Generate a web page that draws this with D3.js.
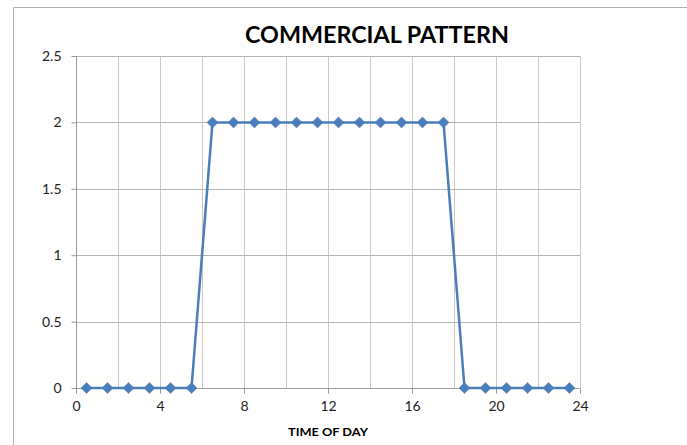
<!DOCTYPE html>
<html>
<head>
<meta charset="utf-8">
<script src="https://cdn.jsdelivr.net/npm/d3@7"></script>
<style>
  html, body { margin: 0; padding: 0; background: #fff; }
  svg { display: block; }
</style>
</head>
<body>
<svg id="chart" width="687" height="445"></svg>
<script>
// Hourly load pattern, sampled at the middle of each hour
const hours = [0.5, 1.5, 2.5, 3.5, 4.5, 5.5, 6.5, 7.5, 8.5, 9.5, 10.5, 11.5,
               12.5, 13.5, 14.5, 15.5, 16.5, 17.5, 18.5, 19.5, 20.5, 21.5, 22.5, 23.5];
const load  = [0, 0, 0, 0, 0, 0, 2, 2, 2, 2, 2, 2,
               2, 2, 2, 2, 2, 2, 0, 0, 0, 0, 0, 0];
const xTicks = [0, 4, 8, 12, 16, 20, 24];
const xGrid = [0, 2, 4, 6, 8, 10, 12, 14, 16, 18, 20, 22, 24];
const yTicks = [0, 0.5, 1, 1.5, 2, 2.5];
const yTickLabels = ["0", "0.5", "1", "1.5", "2", "2.5"];

const titleText = "COMMERCIAL PATTERN";
const xTitle = "TIME OF DAY";

const svg = d3.select("#chart");
const W = 687, H = 445;
const m = { left: 76, right: 107, top: 56, bottom: 57 };

const x = d3.scaleLinear().domain([0, 24]).range([m.left, W - m.right]);
const y = d3.scaleLinear().domain([0, 2.5]).range([H - m.bottom, m.top]);

const font = "Lato, 'Open Sans', sans-serif";

// outer chart frame
svg.append("path")
  .attr("d", `M13.5,${H} V7.5 H${W}`)
  .attr("fill", "none")
  .attr("stroke", "#b0b0b0")
  .attr("stroke-width", 1);

// vertical gridlines
svg.append("g").selectAll("line").data(xGrid.filter(d => d > 0)).join("line")
  .attr("x1", d => Math.round(x(d)) + 0.5).attr("x2", d => Math.round(x(d)) + 0.5)
  .attr("y1", y(2.5)).attr("y2", y(0))
  .attr("stroke", "#c8c8c8").attr("stroke-width", 1);

// horizontal gridlines
svg.append("g").selectAll("line").data(yTicks.filter(d => d > 0)).join("line")
  .attr("x1", x(0)).attr("x2", x(24))
  .attr("y1", d => Math.round(y(d)) + 0.5).attr("y2", d => Math.round(y(d)) + 0.5)
  .attr("stroke", "#b4b4b4").attr("stroke-width", 1);

// x axis
const xAxis = svg.append("g")
  .attr("transform", `translate(0,${Math.round(y(0)) + 0.5})`)
  .call(d3.axisBottom(x).tickValues(xTicks).tickSize(5).tickPadding(8).tickFormat(d3.format("d")));
xAxis.select(".domain").attr("stroke", "#9a9a9a").attr("d", `M${x(0)},0H${x(24)}`);
xAxis.selectAll(".tick line").attr("stroke", "#9a9a9a");
xAxis.selectAll(".tick text").attr("font-family", font).attr("font-size", 14).attr("fill", "#222");

// y axis
const yAxis = svg.append("g")
  .attr("transform", `translate(${Math.round(x(0)) + 0.5},0)`)
  .call(d3.axisLeft(y).tickValues(yTicks).tickSize(5).tickPadding(10)
    .tickFormat((d, i) => yTickLabels[i]));
yAxis.select(".domain").attr("stroke", "#9a9a9a").attr("d", `M0,${y(0)}V${y(2.5)}`);
yAxis.selectAll(".tick line").attr("stroke", "#9a9a9a");
yAxis.selectAll(".tick text").attr("font-family", font).attr("font-size", 14).attr("fill", "#222");

// load line
const pts = hours.map((h, i) => [h, load[i]]);
svg.append("path")
  .datum(pts)
  .attr("fill", "none")
  .attr("stroke", "#4a7ebb")
  .attr("stroke-width", 2.5)
  .attr("stroke-linejoin", "round")
  .attr("d", d3.line().x(d => x(d[0])).y(d => y(d[1])));

// diamond markers
svg.append("g").selectAll("path").data(pts).join("path")
  .attr("transform", d => `translate(${x(d[0])},${y(d[1])})`)
  .attr("d", "M0,-5.5L5.5,0L0,5.5L-5.5,0Z")
  .attr("fill", "#4a7ebb")
  .attr("stroke", "#4a7ebb")
  .attr("stroke-width", 0.5);

// titles
svg.append("text")
  .attr("x", 377).attr("y", 43)
  .attr("text-anchor", "middle")
  .attr("font-family", font).attr("font-weight", "bold").attr("font-size", 22)
  .attr("textLength", 264).attr("lengthAdjust", "spacingAndGlyphs")
  .attr("fill", "#000")
  .text(titleText);

svg.append("text")
  .attr("x", (x(0) + x(24)) / 2).attr("y", 436)
  .attr("text-anchor", "middle")
  .attr("font-family", font).attr("font-weight", "bold").attr("font-size", 11)
  .attr("textLength", 80).attr("lengthAdjust", "spacingAndGlyphs")
  .attr("fill", "#000")
  .text(xTitle);
</script>
</body>
</html>
